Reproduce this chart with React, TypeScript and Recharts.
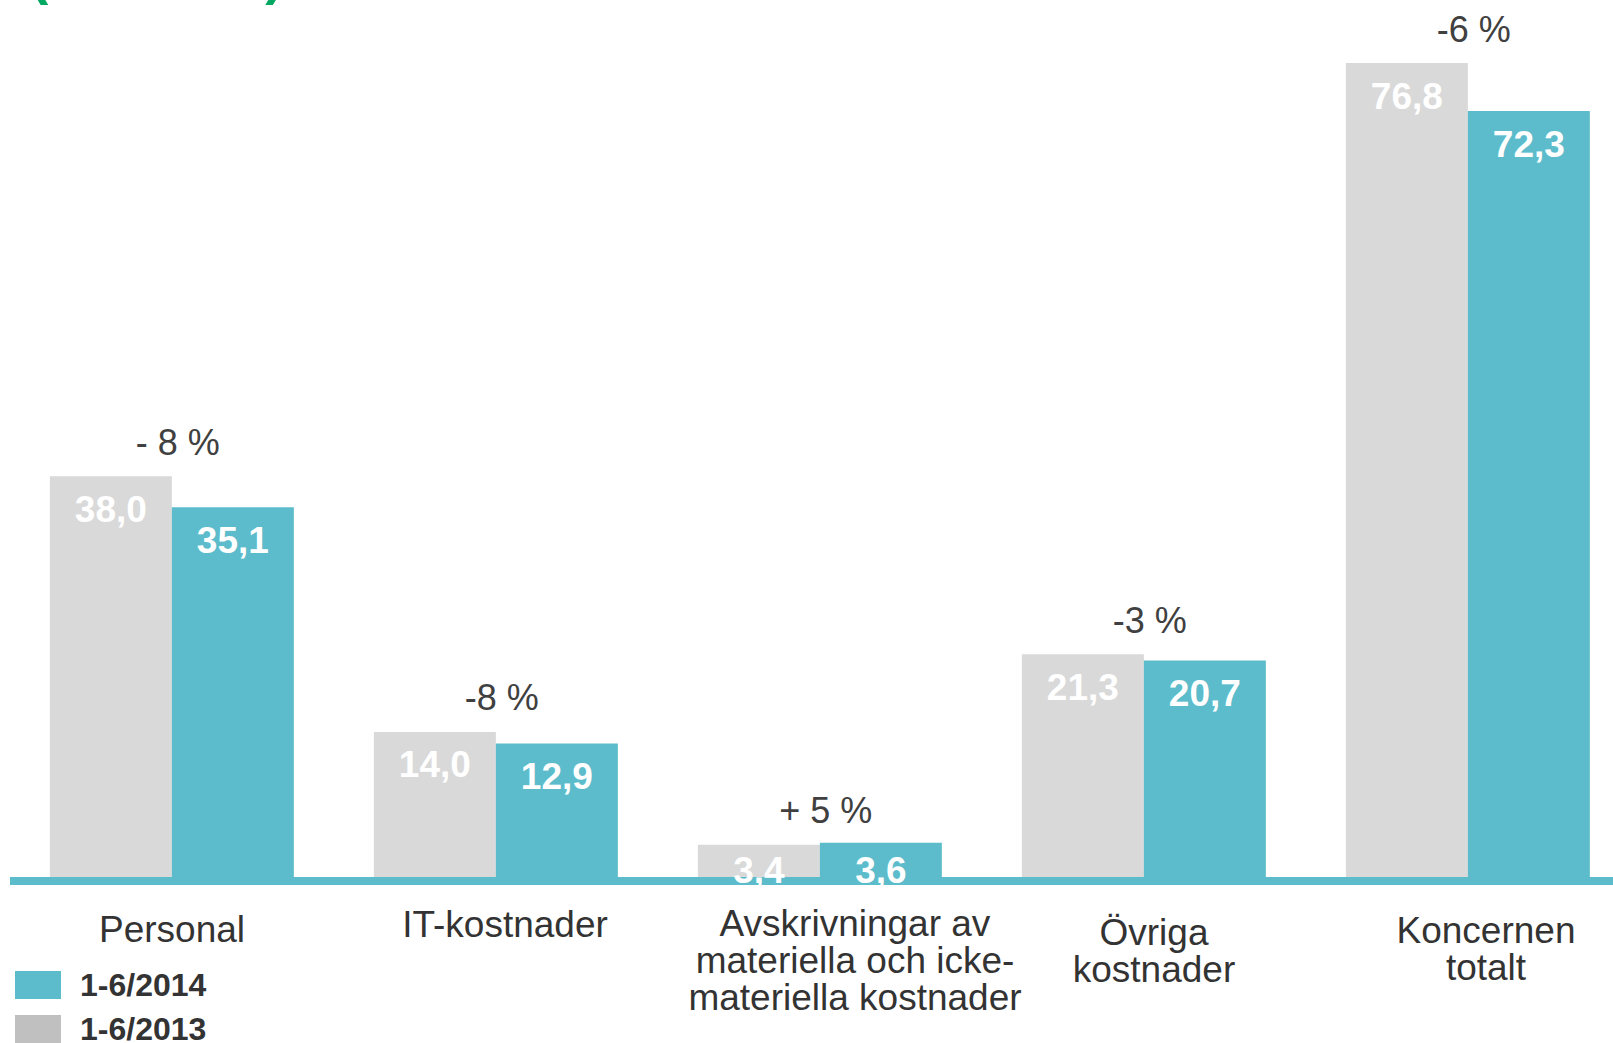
import { BarChart, Bar, XAxis, YAxis, LabelList } from "recharts";

const CATEGORIES = [
  "Personal",
  "IT-kostnader",
  "Avskrivningar av materiella och icke-materiella kostnader",
  "Övriga kostnader",
  "Koncernen totalt",
];

// how each category name is broken on the axis
const CATEGORY_LINES = [
  ["Personal"],
  ["IT-kostnader"],
  ["Avskrivningar av", "materiella och icke-", "materiella kostnader"],
  ["Övriga", "kostnader"],
  ["Koncernen", "totalt"],
];

const H1_2013 = [38.0, 14.0, 3.4, 21.3, 76.8];
const H1_2014 = [35.1, 12.9, 3.6, 20.7, 72.3];
const CHANGES = ["- 8 %", "-8 %", "+ 5 %", "-3 %", "-6 %"];

const LEGEND = [
  { label: "1-6/2014", color: "#5cbccb" },
  { label: "1-6/2013", color: "#c0c0c0" },
];

const TEAL = "#5cbccb";
const GREY = "#d9d9d9";
const FONT = "'Liberation Sans', Arial, sans-serif";

// small per-label nudges so the axis text sits like the original slide
const TICK_NUDGE = [
  { dx: 0, dy: 48 },
  { dx: 9, dy: 43 },
  { dx: 35, dy: 42 },
  { dx: 10, dy: 51 },
  { dx: 18, dy: 49 },
];

const data = CATEGORIES.map((name, i) => ({
  name,
  y2013: H1_2013[i],
  y2014: H1_2014[i],
  change: CHANGES[i],
}));

const fmt = (v: number) => v.toFixed(1).replace(".", ",");

function CategoryTick(props: any) {
  const { x, y, payload, index } = props;
  const lines = CATEGORY_LINES[index] ?? [payload.value];
  const nudge = TICK_NUDGE[index] ?? { dx: 0, dy: 45 };
  return (
    <text
      x={x + nudge.dx}
      y={y + nudge.dy}
      textAnchor="middle"
      fill="#333333"
      fontSize={37}
      fontFamily={FONT}
    >
      {lines.map((l: string, i: number) => (
        <tspan key={i} x={x + nudge.dx} dy={i === 0 ? 13 : 37}>
          {l}
        </tspan>
      ))}
    </text>
  );
}

function ValueLabel(props: any) {
  const { x, y, width, height, value } = props;
  const cy = y + Math.min(33, height - 11);
  return (
    <text
      x={x + width / 2}
      y={cy}
      textAnchor="middle"
      dominantBaseline="central"
      fill="#ffffff"
      fontSize={37}
      fontWeight="bold"
      fontFamily={FONT}
    >
      {fmt(value)}
    </text>
  );
}

function ChangeLabel(props: any) {
  const { x, y, width, index } = props;
  return (
    <text
      x={x + width + 6}
      y={y - 34}
      textAnchor="middle"
      dominantBaseline="central"
      fill="#404040"
      fontSize={36}
      fontFamily={FONT}
    >
      {CHANGES[index]}
    </text>
  );
}

export default function App() {
  return (
    <div
      style={{
        position: "absolute",
        left: 0,
        top: 0,
        width: 1613,
        height: 1043,
        overflow: "hidden",
        background: "#ffffff",
        fontFamily: FONT,
      }}
    >
      {/* title, mostly outside the frame */}
      <div
        style={{
          position: "absolute",
          left: 30,
          top: -53,
          fontSize: 55,
          lineHeight: 1,
          fontWeight: "bold",
          color: "#00a862",
          whiteSpace: "nowrap",
        }}
      >
        (mn euro)
      </div>

      <BarChart
        width={1640}
        height={1043}
        data={data}
        margin={{ top: 29, right: 10, left: 10, bottom: 0 }}
        barCategoryGap="12.3%"
        barGap={0}
      >
        <XAxis
          dataKey="name"
          height={162}
          interval={0}
          tickLine={false}
          tickSize={0}
          tickMargin={0}
          axisLine={{ stroke: TEAL, strokeWidth: 8 }}
          tick={<CategoryTick />}
        />
        <YAxis hide domain={[0, 80]} />
        <Bar dataKey="y2013" fill={GREY} isAnimationActive={false}>
          <LabelList dataKey="y2013" content={<ValueLabel />} />
          <LabelList dataKey="change" content={<ChangeLabel />} />
        </Bar>
        <Bar dataKey="y2014" fill={TEAL} isAnimationActive={false}>
          <LabelList dataKey="y2014" content={<ValueLabel />} />
        </Bar>
      </BarChart>

      <div style={{ position: "absolute", left: 15, top: 971 }}>
        {LEGEND.map((item) => (
          <div
            key={item.label}
            style={{ display: "flex", alignItems: "center", height: 28, marginBottom: 16 }}
          >
            <div style={{ width: 46, height: 28, background: item.color }} />
            <span
              style={{
                marginLeft: 19,
                fontSize: 32,
                fontWeight: "bold",
                color: "#333333",
                lineHeight: 1,
              }}
            >
              {item.label}
            </span>
          </div>
        ))}
      </div>
    </div>
  );
}
